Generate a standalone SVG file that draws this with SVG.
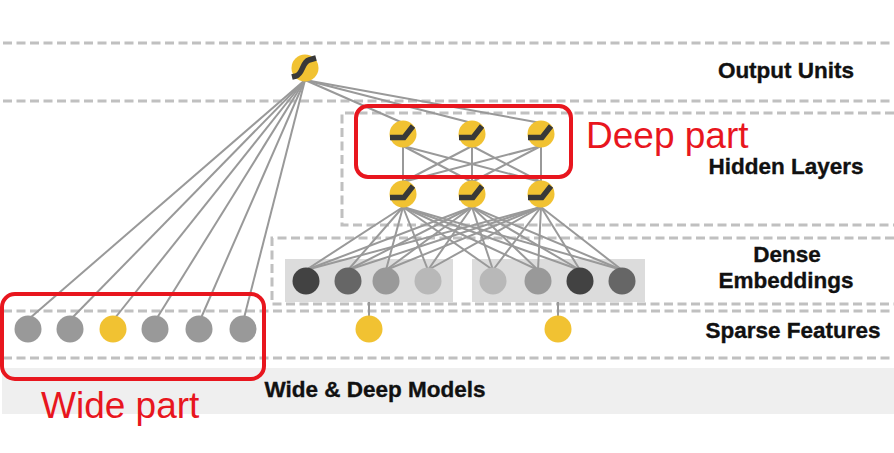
<svg xmlns="http://www.w3.org/2000/svg" width="894" height="453" viewBox="0 0 894 453">
<style>
.dash{stroke:#c0c0c0;stroke-width:3;stroke-dasharray:9 4.5;fill:none}
.edge{stroke:#999;stroke-width:2;fill:none}
.yel{fill:#f1c232}
.icon{stroke:#383838;stroke-width:5.5;fill:none;stroke-linejoin:miter}
.lbl{font-family:"Liberation Sans",Arial,sans-serif;font-weight:bold;font-size:22.5px;fill:#111;stroke:#111;stroke-width:0.35;text-anchor:middle}
.red{font-family:"Liberation Sans",Arial,sans-serif;font-size:37px;fill:#e8161e}
.redbox{fill:none;stroke:#e8161e;stroke-width:4}
</style>
<rect width="894" height="453" fill="#fff"/>
<g id="bands">
<rect x="2" y="368" width="892" height="46" fill="#efefef"/>
<rect x="285" y="259" width="168" height="43" fill="#dcdcdc"/>
<rect x="472" y="259" width="173" height="43" fill="#dcdcdc"/>
<line class="dash" x1="3" y1="43" x2="894" y2="43"/>
<line class="dash" x1="3" y1="101" x2="894" y2="101"/>
<path class="dash" d="M894,113 H342 V225 H894"/>
<path class="dash" d="M894,238 H272 V304 H894"/>
<line class="dash" x1="3" y1="311" x2="894" y2="311"/>
<line class="dash" x1="3" y1="358" x2="894" y2="358"/>
</g>
<g id="connectors">
<line class="edge" x1="305" y1="80" x2="30" y2="318"/>
<line class="edge" x1="305" y1="80" x2="72" y2="318"/>
<line class="edge" x1="305" y1="80" x2="115" y2="318"/>
<line class="edge" x1="305" y1="80" x2="157" y2="318"/>
<line class="edge" x1="305" y1="80" x2="201" y2="318"/>
<line class="edge" x1="305" y1="80" x2="244" y2="318"/>
<line class="edge" x1="305" y1="80" x2="403" y2="123"/>
<line class="edge" x1="305" y1="80" x2="472" y2="123"/>
<line class="edge" x1="305" y1="80" x2="541" y2="123"/>
<line class="edge" x1="403" y1="146" x2="403" y2="182"/>
<line class="edge" x1="403" y1="146" x2="472" y2="182"/>
<line class="edge" x1="403" y1="146" x2="541" y2="182"/>
<line class="edge" x1="472" y1="146" x2="403" y2="182"/>
<line class="edge" x1="472" y1="146" x2="472" y2="182"/>
<line class="edge" x1="472" y1="146" x2="541" y2="182"/>
<line class="edge" x1="541" y1="146" x2="403" y2="182"/>
<line class="edge" x1="541" y1="146" x2="472" y2="182"/>
<line class="edge" x1="541" y1="146" x2="541" y2="182"/>
<g id="dense-edges">
<line class="edge" x1="403" y1="207" x2="306" y2="270"/>
<line class="edge" x1="403" y1="207" x2="348" y2="270"/>
<line class="edge" x1="403" y1="207" x2="386" y2="270"/>
<line class="edge" x1="403" y1="207" x2="428" y2="270"/>
<line class="edge" x1="403" y1="207" x2="493" y2="270"/>
<line class="edge" x1="403" y1="207" x2="538" y2="270"/>
<line class="edge" x1="403" y1="207" x2="580" y2="270"/>
<line class="edge" x1="403" y1="207" x2="622" y2="270"/>
<line class="edge" x1="472" y1="207" x2="306" y2="270"/>
<line class="edge" x1="472" y1="207" x2="348" y2="270"/>
<line class="edge" x1="472" y1="207" x2="386" y2="270"/>
<line class="edge" x1="472" y1="207" x2="428" y2="270"/>
<line class="edge" x1="472" y1="207" x2="493" y2="270"/>
<line class="edge" x1="472" y1="207" x2="538" y2="270"/>
<line class="edge" x1="472" y1="207" x2="580" y2="270"/>
<line class="edge" x1="472" y1="207" x2="622" y2="270"/>
<line class="edge" x1="541" y1="207" x2="306" y2="270"/>
<line class="edge" x1="541" y1="207" x2="348" y2="270"/>
<line class="edge" x1="541" y1="207" x2="386" y2="270"/>
<line class="edge" x1="541" y1="207" x2="428" y2="270"/>
<line class="edge" x1="541" y1="207" x2="493" y2="270"/>
<line class="edge" x1="541" y1="207" x2="538" y2="270"/>
<line class="edge" x1="541" y1="207" x2="580" y2="270"/>
<line class="edge" x1="541" y1="207" x2="622" y2="270"/>
</g>
<line class="edge" x1="369" y1="302" x2="369" y2="318"/>
<line class="edge" x1="558" y1="302" x2="558" y2="318"/>
</g>
<g id="output">
<circle class="yel" cx="305" cy="68" r="13.5"/>
<path class="icon" d="M292,77 L296,76 C303,74 302,62 309,60 L316,58"/>
</g>
<g id="hidden2-1"><circle class="yel" cx="403" cy="134" r="13.5"/><path class="icon" d="M390,137.5 H404 L413,126"/></g>
<g id="hidden2-2"><circle class="yel" cx="472" cy="134" r="13.5"/><path class="icon" d="M459,137.5 H473 L482,126"/></g>
<g id="hidden2-3"><circle class="yel" cx="541" cy="134" r="13.5"/><path class="icon" d="M528,137.5 H542 L551,126"/></g>
<g id="hidden1-1"><circle class="yel" cx="403" cy="194" r="13.5"/><path class="icon" d="M390,197.5 H404 L413,186"/></g>
<g id="hidden1-2"><circle class="yel" cx="472" cy="194" r="13.5"/><path class="icon" d="M459,197.5 H473 L482,186"/></g>
<g id="hidden1-3"><circle class="yel" cx="541" cy="194" r="13.5"/><path class="icon" d="M528,197.5 H542 L551,186"/></g>
<g id="dense-1"><circle cx="306" cy="281" r="13.5" fill="#424242"/></g>
<g id="dense-2"><circle cx="348" cy="281" r="13.5" fill="#666"/></g>
<g id="dense-3"><circle cx="386" cy="281" r="13.5" fill="#999"/></g>
<g id="dense-4"><circle cx="428" cy="281" r="13.5" fill="#b8b8b8"/></g>
<g id="dense-5"><circle cx="493" cy="281" r="13.5" fill="#b8b8b8"/></g>
<g id="dense-6"><circle cx="538" cy="281" r="13.5" fill="#999"/></g>
<g id="dense-7"><circle cx="580" cy="281" r="13.5" fill="#424242"/></g>
<g id="dense-8"><circle cx="622" cy="281" r="13.5" fill="#666"/></g>
<g id="wide-1"><circle cx="28" cy="329" r="13.5" fill="#999"/></g>
<g id="wide-2"><circle cx="70" cy="329" r="13.5" fill="#999"/></g>
<g id="wide-3"><circle class="yel" cx="113" cy="329" r="13.5"/></g>
<g id="wide-4"><circle cx="155" cy="329" r="13.5" fill="#999"/></g>
<g id="wide-5"><circle cx="199" cy="329" r="13.5" fill="#999"/></g>
<g id="wide-6"><circle cx="243" cy="329" r="13.5" fill="#999"/></g>
<g id="sparse-1"><circle class="yel" cx="369" cy="329" r="13.5"/></g>
<g id="sparse-2"><circle class="yel" cx="558" cy="329" r="13.5"/></g>
<g id="labels">
<text class="lbl" x="786" y="78">Output Units</text>
<text class="lbl" x="786" y="174">Hidden Layers</text>
<text class="lbl" x="787" y="262">Dense</text>
<text class="lbl" x="786" y="288">Embeddings</text>
<text class="lbl" x="793" y="338">Sparse Features</text>
<text class="lbl" x="375" y="397">Wide &amp; Deep Models</text>
</g>
<g id="deep-part">
<rect class="redbox" x="356" y="106" width="215" height="71" rx="12"/>
<text class="red" x="586" y="148">Deep part</text>
</g>
<g id="wide-part">
<rect class="redbox" x="2" y="294" width="262" height="85" rx="13"/>
<text class="red" x="41" y="418">Wide part</text>
</g>
</svg>
